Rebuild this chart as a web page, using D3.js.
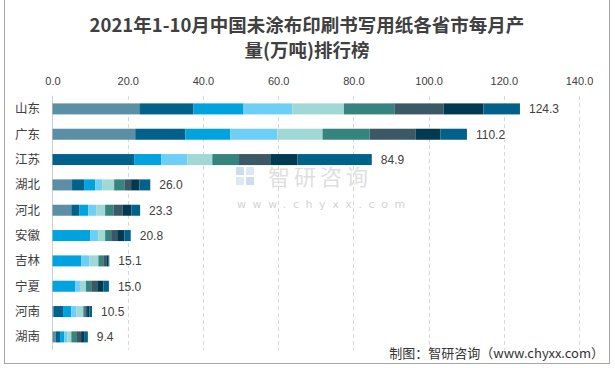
<!DOCTYPE html>
<html><head><meta charset="utf-8">
<script src="https://cdn.jsdelivr.net/npm/d3@7"></script>
<style>body{margin:0;background:#fff;}svg{display:block;}</style>
</head><body>
<script>
const provinces = ["山东","广东","江苏","湖北","河北","安徽","吉林","宁夏","河南","湖南"];
const months = ["1-2月","3月","4月","5月","6月","7月","8月","9月","10月"];
// values per province (rows) per month (cols), 万吨
const m12 = [23.1,22.0,0,5.2,5.0,0,0,0,0.4,0.9];
const m3  = [14.4,13.3,21.7,3.2,2.1,0,0,0,2.4,1.1];
const m4  = [13.3,12.0,7.2,3.0,2.4,10.0,7.6,6.0,2.2,1.1];
const m5  = [13.0,12.5,7.0,1.8,2.1,2.2,2.2,1.3,1.3,0.8];
const m6  = [13.7,12.0,6.6,3.2,2.4,1.8,2.4,1.6,1.9,1.1];
const m7  = [13.4,12.5,7.1,2.7,2.2,1.6,1.3,1.4,0.5,1.3];
const m8  = [13.1,12.2,8.3,1.8,2.4,1.6,0.8,1.6,0.5,1.3];
const m9  = [10.6,6.7,7.2,2.2,2.4,1.9,0.6,1.6,0.6,0.8];
const m10 = [9.7,7.0,19.8,2.9,2.3,1.7,0.2,1.5,0.7,1.0];
const totals = [124.3,110.2,84.9,26.0,23.3,20.8,15.1,15.0,10.5,9.4];
const tickValues = [0,20,40,60,80,100,120,140];
const colors = ["#5B8FA6","#00628A","#00A3DD","#6DCFF6","#A0D8D5","#36847E","#3A5866","#003A50","#00628A"];

const series = [m12,m3,m4,m5,m6,m7,m8,m9,m10];
const rows = provinces.map((p,i)=>{const o={name:p,total:totals[i]};months.forEach((m,j)=>o[m]=series[j][i]);return o;});

const W=615,H=368;
const svg=d3.select("body").append("svg").attr("width",W).attr("height",H);
svg.append("rect").attr("x",0).attr("y",0).attr("width",W).attr("height",H).attr("fill","#fff");
svg.append("rect").attr("x",4.5).attr("y",-2).attr("width",605).attr("height",365.5)
  .attr("fill","none").attr("stroke","#a6a6a6").attr("stroke-width",1);

const x=d3.scaleLinear().domain([0,140]).range([52.5,579]);
const y=d3.scaleBand().domain(provinces).range([96.3,349.5]).paddingInner(0.565).paddingOuter(0.28);

// grid
svg.append("g").selectAll("line").data(tickValues.slice(1)).join("line")
  .attr("x1",d=>Math.round(x(d))+0.5).attr("x2",d=>Math.round(x(d))+0.5)
  .attr("y1",96).attr("y2",350).attr("stroke","#d9d9d9").attr("stroke-dasharray","4,3");

// watermark
const wm=svg.append("g").attr("opacity",0.9);
wm.append("rect").attr("x",236).attr("y",167).attr("width",8).attr("height",8).attr("fill","#c9d9ea");
wm.append("rect").attr("x",246).attr("y",167).attr("width",8).attr("height",8).attr("fill","#dbe6f1");
wm.append("rect").attr("x",236).attr("y",177).attr("width",8).attr("height",8).attr("fill","#dbe6f1");
wm.append("rect").attr("x",246).attr("y",177).attr("width",8).attr("height",8).attr("fill","#c9d9ea");
wm.append("text").attr("x",268).attr("y",185).attr("font-family","Noto Sans CJK SC").attr("font-size",22)
  .attr("fill","#dcdcdc").attr("letter-spacing",4).text("智研咨询");
wm.append("text").attr("x",237).attr("y",208).attr("font-family","DejaVu Sans").attr("font-size",11)
  .attr("fill","#cfcfcf").attr("letter-spacing",6.6).text("www.chyxx.com");

// axis line
svg.append("line").attr("x1",52.5).attr("x2",52.5).attr("y1",96).attr("y2",350).attr("stroke","#d0d0d0");

// top axis
const ax=svg.append("g").attr("transform","translate(0,88)")
  .call(d3.axisTop(x).tickValues(tickValues).tickFormat(d3.format(".1f")).tickSize(0).tickPadding(3));
ax.select(".domain").remove();
ax.selectAll("text").attr("font-family","Liberation Sans, Arial, sans-serif").attr("font-size",11).attr("fill","#404040");

// stacked bars
const stack=d3.stack().keys(months)(rows);
svg.append("g").selectAll("g").data(stack).join("g").attr("fill",(d,i)=>colors[i])
  .selectAll("rect").data(d=>d).join("rect")
  .attr("x",d=>x(d[0])).attr("width",d=>Math.max(0,x(d[1])-x(d[0])))
  .attr("y",d=>y(d.data.name)).attr("height",y.bandwidth());

// category labels
svg.append("g").selectAll("text").data(provinces).join("text")
  .attr("x",40).attr("y",d=>y(d)+y.bandwidth()/2).attr("dy","0.36em").attr("text-anchor","end")
  .attr("font-family","Noto Sans CJK SC").attr("font-size",12.5).attr("fill","#404040").text(d=>d);

// value labels
svg.append("g").selectAll("text").data(rows).join("text")
  .attr("x",d=>x(d.total)+9).attr("y",d=>y(d.name)+y.bandwidth()/2).attr("dy","0.36em")
  .attr("font-family","Liberation Sans, Arial, sans-serif").attr("font-size",12).attr("fill","#404040")
  .text(d=>d.total.toFixed(1));

// title
const t=svg.append("text").attr("text-anchor","middle").attr("font-family","Noto Sans CJK SC")
  .attr("font-size",18.5).attr("font-weight","bold").attr("fill","#404040");
t.append("tspan").attr("x",307).attr("y",32).text("2021年1-10月中国未涂布印刷书写用纸各省市每月产");
t.append("tspan").attr("x",307).attr("y",57).text("量(万吨)排行榜");

// footer
svg.append("text").attr("x",604).attr("y",358).attr("text-anchor","end")
  .attr("font-family","Noto Sans CJK SC").attr("font-size",13).attr("fill","#333")
  .text("制图：智研咨询（www.chyxx.com）");
</script>
</body></html>
